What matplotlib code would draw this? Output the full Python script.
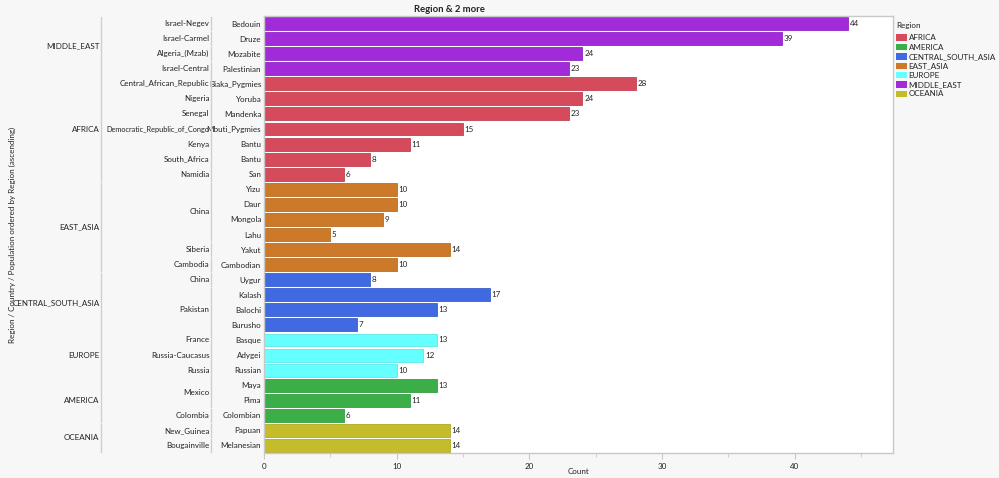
import matplotlib.pyplot as plt
from matplotlib.patches import Rectangle
from matplotlib.lines import Line2D
from matplotlib.colors import to_rgb
from matplotlib.transforms import blended_transform_factory

plt.rcParams['font.family'] = ['Lato', 'DejaVu Sans']
FS = 5.8
TXT = "#222222"

# rows, top to bottom
regions = ["MIDDLE_EAST"] * 4 + ["AFRICA"] * 7 + ["EAST_ASIA"] * 6 + \
          ["CENTRAL_SOUTH_ASIA"] * 4 + ["EUROPE"] * 3 + ["AMERICA"] * 3 + ["OCEANIA"] * 2
countries = ["Israel-Negev", "Israel-Carmel", "Algeria_(Mzab)", "Israel-Central",
             "Central_African_Republic", "Nigeria", "Senegal", "Democratic_Republic_of_Congo",
             "Kenya", "South_Africa", "Namidia",
             "China", "China", "China", "China", "Siberia", "Cambodia",
             "China", "Pakistan", "Pakistan", "Pakistan",
             "France", "Russia-Caucasus", "Russia",
             "Mexico", "Mexico", "Colombia",
             "New_Guinea", "Bougainville"]
populations = ["Bedouin", "Druze", "Mozabite", "Palestinian",
               "Biaka_Pygmies", "Yoruba", "Mandenka", "Mbuti_Pygmies", "Bantu", "Bantu", "San",
               "Yizu", "Daur", "Mongola", "Lahu", "Yakut", "Cambodian",
               "Uygur", "Kalash", "Balochi", "Burusho",
               "Basque", "Adygei", "Russian",
               "Maya", "Pima", "Colombian",
               "Papuan", "Melanesian"]
counts = [44, 39, 24, 23,
          28, 24, 23, 15, 11, 8, 6,
          10, 10, 9, 5, 14, 10,
          8, 17, 13, 7,
          13, 12, 10,
          13, 11, 6,
          14, 14]

legend_order = ["AFRICA", "AMERICA", "CENTRAL_SOUTH_ASIA", "EAST_ASIA", "EUROPE", "MIDDLE_EAST", "OCEANIA"]
region_colors = {
    "AFRICA": "#d64b5b",
    "AMERICA": "#3cae48",
    "CENTRAL_SOUTH_ASIA": "#4169e1",
    "EAST_ASIA": "#cc7a2a",
    "EUROPE": "#66ffff",
    "MIDDLE_EAST": "#a22bd9",
    "OCEANIA": "#c4bc2b",
}


def darker(c, f=0.9):
    r, g, b = to_rgb(c)
    return (r * f, g * f, b * f)


W, H = 999, 478
fig = plt.figure(figsize=(W / 100, H / 100), dpi=100, facecolor="#f7f7f7")
ax = fig.add_axes([264 / W, 1 - 453 / H, (893 - 264) / W, (453 - 16) / H])
ax.set_facecolor("white")

ypos = list(range(len(counts)))
bars = ax.barh(ypos, counts, height=0.86,
               color=[region_colors[r] for r in regions],
               edgecolor=[darker(region_colors[r]) for r in regions], linewidth=0.6)
ax.bar_label(bars, padding=1.2, fontsize=FS, color=TXT)

ax.set_ylim(len(counts) - 0.5, -0.5)
ax.set_xlim(0, 47.4)
ax.set_xticks([0, 10, 20, 30, 40])
ax.set_xticks([5, 15, 25, 35, 45], minor=True)
ax.tick_params(axis="x", which="both", length=4, color="#c8c8c8", labelsize=FS,
               labelcolor=TXT, pad=3)
ax.tick_params(axis="x", which="minor", length=3)
ax.set_yticks(ypos)
ax.set_yticklabels(populations, fontsize=FS, color=TXT)
ax.tick_params(axis="y", length=0, pad=2)
for s in ax.spines.values():
    s.set_color("#c8c8c8")
    s.set_linewidth(1.0)

# hierarchical labels
tr = blended_transform_factory(fig.transFigure, ax.transData)


def runs(labels, keys):
    out = []
    start = 0
    for i in range(1, len(labels) + 1):
        if i == len(labels) or keys[i] != keys[start]:
            out.append((labels[start], start, i - 1))
            start = i
    return out


country_keys = [r + "|" + c for r, c in zip(regions, countries)]
for name, a, b in runs(countries, country_keys):
    fs = 5.35 if len(name) > 24 else FS
    fig.text(209.5 / W, (a + b) / 2, name, transform=tr, ha="right", va="center",
             fontsize=fs, color=TXT)
    fig.add_artist(Line2D([211 / W, 211 / W], [a - 0.45, b + 0.45], transform=tr,
                          color="#cfcfcf", lw=1))
for name, a, b in runs(regions, regions):
    fig.text(99.5 / W, (a + b) / 2, name, transform=tr, ha="right", va="center",
             fontsize=FS, color=TXT)
    fig.add_artist(Line2D([101 / W, 101 / W], [a - 0.45, b + 0.45], transform=tr,
                          color="#cfcfcf", lw=1))

fig.text(12 / W, 1 - 234.5 / H, "Region / Country / Population ordered by Region (ascending)",
         rotation=90, ha="center", va="center", fontsize=FS, color=TXT)
fig.text(578.5 / W, 1 - 471 / H, "Count", ha="center", va="center", fontsize=FS, color=TXT)
fig.text(449 / W, 1 - 9 / H, "Region & 2 more", ha="center", va="center",
         fontsize=6.8, fontweight="bold", color=TXT)

# legend, drawn by hand to match the spacing
fig.text(896 / W, 1 - 25.3 / H, "Region", ha="left", va="center", fontsize=FS, color=TXT)
for k, r in enumerate(legend_order):
    yc = 37.7 + k * 9.38
    fig.add_artist(Rectangle((896 / W, 1 - (yc + 3.2) / H), 10.5 / W, 6.4 / H,
                             transform=fig.transFigure, facecolor=region_colors[r],
                             edgecolor="none"))
    fig.text(908.5 / W, 1 - yc / H, r, ha="left", va="center", fontsize=FS, color=TXT)

fig.savefig("out.png", dpi=100, facecolor=fig.get_facecolor())
